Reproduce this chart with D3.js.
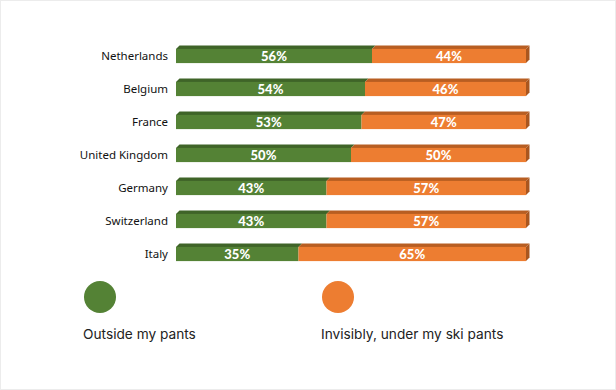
<!DOCTYPE html>
<html>
<head>
<meta charset="utf-8">
<script src="https://cdn.jsdelivr.net/npm/d3@7"></script>
<style>
  body { margin: 0; background: #fff; }
  svg { display: block; }
</style>
</head>
<body>
<div id="chart"></div>
<script>
// Data
const countries = ['Netherlands', 'Belgium', 'France', 'United Kingdom', 'Germany', 'Switzerland', 'Italy']
const outside = [56, 54, 53, 50, 43, 43, 35]
const under = [44, 46, 47, 50, 57, 57, 65]
const seriesNames = ['Outside my pants', 'Invisibly, under my ski pants']

const width = 616,
  height = 390

const colors = ['#548235', '#ED7D31']
const topColors = ['#3f6428', '#b85e22']
const sideColors = ['#3f6428', '#a9561f']

const depth = 3.5

let svg = d3.select('#chart')
  .append('svg')
  .attr('width', width)
  .attr('height', height)

svg.append('rect')
  .attr('x', 0.5).attr('y', 0.5)
  .attr('width', width - 1).attr('height', height - 1)
  .attr('fill', '#fff')
  .attr('stroke', '#ececec')

let x = d3.scaleLinear()
  .domain([0, 100])
  .range([176, 526])

let y = d3.scaleBand()
  .domain(countries)
  .range([39, 271])
  .paddingInner(0.57)
  .paddingOuter(0.3)

let rows = countries.map((c, i) => ({
  name: c,
  segs: [
    { k: 0, x0: 0, x1: outside[i], v: outside[i] },
    { k: 1, x0: outside[i], x1: outside[i] + under[i], v: under[i] }
  ]
}))

let g = svg.selectAll('g.row')
  .data(rows)
  .enter()
  .append('g')
  .attr('class', 'row')
  .attr('transform', d => `translate(0, ${y(d.name)})`)

let bh = y.bandwidth()

// top faces
g.selectAll('path.top')
  .data(d => d.segs)
  .enter()
  .append('path')
  .attr('d', s => {
    let a = x(s.x0), b = x(s.x1)
    return `M${a},0 L${a + depth},${-depth} L${b + depth},${-depth} L${b},0 Z`
  })
  .attr('fill', s => topColors[s.k])

// right side on the last segment
g.append('path')
  .attr('d', d => {
    let b = x(d.segs[1].x1)
    return `M${b},0 L${b + depth},${-depth} L${b + depth},${bh - depth} L${b},${bh} Z`
  })
  .attr('fill', sideColors[1])

// front faces
g.selectAll('rect.front')
  .data(d => d.segs)
  .enter()
  .append('rect')
  .attr('x', s => x(s.x0))
  .attr('y', 0)
  .attr('width', s => x(s.x1) - x(s.x0))
  .attr('height', bh)
  .attr('fill', s => colors[s.k])

g.selectAll('text.val')
  .data(d => d.segs)
  .enter()
  .append('text')
  .attr('x', s => (x(s.x0) + x(s.x1)) / 2)
  .attr('y', bh / 2 + 4.5)
  .attr('text-anchor', 'middle')
  .attr('fill', '#fff')
  .style('font-family', 'Lato, sans-serif')
  .style('font-weight', '900')
  .style('font-size', '13px')
  .text(s => s.v + '%')

g.append('text')
  .attr('x', 168)
  .attr('y', bh / 2 + 4)
  .attr('text-anchor', 'end')
  .attr('fill', '#111')
  .style('font-family', '"Noto Sans", sans-serif')
  .style('font-size', '11.5px')
  .text(d => d.name)

// legend
let legendX = [100, 338]
let leg = svg.selectAll('g.legend')
  .data(seriesNames)
  .enter()
  .append('g')
  .attr('class', 'legend')

leg.append('circle')
  .attr('cx', (d, i) => legendX[i])
  .attr('cy', 297)
  .attr('r', 16)
  .attr('fill', (d, i) => colors[i])

leg.append('text')
  .attr('x', (d, i) => legendX[i] - 17)
  .attr('y', 339)
  .attr('fill', '#222')
  .style('font-family', 'Inter, sans-serif')
  .style('font-size', '13.7px')
  .text(d => d)
</script>
</body>
</html>
